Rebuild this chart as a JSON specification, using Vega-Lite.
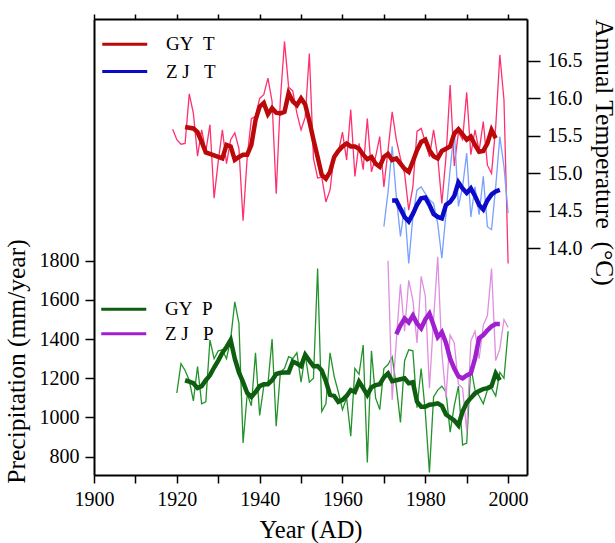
{
  "$schema": "https://vega.github.io/schema/vega-lite/v6.json",
  "width": 433,
  "height": 456,
  "autosize": {"type": "none"},
  "padding": {"left": 94, "top": 19, "right": 88, "bottom": 68},
  "background": "white",
  "config": {
    "font": "Liberation Serif",
    "view": {"stroke": null},
    "axis": {"grid": false, "domainColor": "#000", "domainWidth": 2, "tickColor": "#000", "tickWidth": 1.5, "labelColor": "#000", "titleColor": "#000", "labelFont": "Liberation Serif", "titleFont": "Liberation Serif", "labelFontSize": 20, "titleFontSize": 25.5, "titleFontWeight": "normal", "labelFlush": false, "labelOverlap": false},
    "legend": {"labelFont": "Liberation Serif", "labelFontSize": 19, "labelColor": "#000", "symbolType": "M-2,0H2", "symbolSize": 506, "symbolStrokeWidth": 3, "labelOffset": 28.25, "orient": "none", "title": null}
  },
  "data": {"values": [
    {"year":1919,"GY_T":15.59},
    {"year":1920,"GY_T":15.45,"GY_P":1125},
    {"year":1921,"GY_T":15.39,"GY_P":1275},
    {"year":1922,"GY_T":15.40,"GY_T_s":15.62,"GY_P":1240,"GY_P_s":1190},
    {"year":1923,"GY_T":16.06,"GY_T_s":15.61,"GY_P":1190,"GY_P_s":1183},
    {"year":1924,"GY_T":15.80,"GY_T_s":15.60,"GY_P":1085,"GY_P_s":1175},
    {"year":1925,"GY_T":15.23,"GY_T_s":15.55,"GY_P":1260,"GY_P_s":1150},
    {"year":1926,"GY_T":15.58,"GY_T_s":15.42,"GY_P":1070,"GY_P_s":1160},
    {"year":1927,"GY_T":15.29,"GY_T_s":15.28,"GY_P":1080,"GY_P_s":1190},
    {"year":1928,"GY_T":15.65,"GY_T_s":15.26,"GY_P":1395,"GY_P_s":1215},
    {"year":1929,"GY_T":14.67,"GY_T_s":15.24,"GY_P":1300,"GY_P_s":1255},
    {"year":1930,"GY_T":15.16,"GY_T_s":15.22,"GY_P":1340,"GY_P_s":1290},
    {"year":1931,"GY_T":15.58,"GY_T_s":15.20,"GY_P":1345,"GY_P_s":1330},
    {"year":1932,"GY_T":15.13,"GY_T_s":15.38,"GY_P":1300,"GY_P_s":1360},
    {"year":1933,"GY_T":15.45,"GY_T_s":15.36,"GY_P":1400,"GY_P_s":1395},
    {"year":1934,"GY_T":15.54,"GY_T_s":15.18,"GY_P":1590,"GY_P_s":1300},
    {"year":1935,"GY_T":15.33,"GY_T_s":15.22,"GY_P":1480,"GY_P_s":1230},
    {"year":1936,"GY_T":14.37,"GY_T_s":15.25,"GY_P":870,"GY_P_s":1180},
    {"year":1937,"GY_T":15.22,"GY_T_s":15.25,"GY_P":1120,"GY_P_s":1125},
    {"year":1938,"GY_T":15.73,"GY_T_s":15.38,"GY_P":1060,"GY_P_s":1105},
    {"year":1939,"GY_T":15.76,"GY_T_s":15.71,"GY_P":1330,"GY_P_s":1130},
    {"year":1940,"GY_T":16.00,"GY_T_s":15.89,"GY_P":1010,"GY_P_s":1160},
    {"year":1941,"GY_T":16.05,"GY_T_s":15.94,"GY_P":1160,"GY_P_s":1170},
    {"year":1942,"GY_T":16.27,"GY_T_s":15.79,"GY_P":1170,"GY_P_s":1170},
    {"year":1943,"GY_T":15.96,"GY_T_s":15.87,"GY_P":1400,"GY_P_s":1190},
    {"year":1944,"GY_T":14.73,"GY_T_s":15.81,"GY_P":955,"GY_P_s":1222},
    {"year":1945,"GY_T":15.98,"GY_T_s":15.80,"GY_P":1230,"GY_P_s":1228},
    {"year":1946,"GY_T":16.76,"GY_T_s":15.82,"GY_P":1250,"GY_P_s":1230},
    {"year":1947,"GY_T":16.15,"GY_T_s":16.07,"GY_P":1310,"GY_P_s":1230},
    {"year":1948,"GY_T":16.10,"GY_T_s":15.96,"GY_P":1300,"GY_P_s":1285},
    {"year":1949,"GY_T":15.80,"GY_T_s":15.91,"GY_P":1330,"GY_P_s":1275},
    {"year":1950,"GY_T":15.58,"GY_T_s":16.00,"GY_P":1180,"GY_P_s":1262},
    {"year":1951,"GY_T":15.75,"GY_T_s":15.92,"GY_P":1320,"GY_P_s":1320},
    {"year":1952,"GY_T":16.60,"GY_T_s":15.70,"GY_P":1180,"GY_P_s":1290},
    {"year":1953,"GY_T":15.20,"GY_T_s":15.45,"GY_P":1200,"GY_P_s":1262},
    {"year":1954,"GY_T":14.94,"GY_T_s":15.22,"GY_P":1760,"GY_P_s":1263},
    {"year":1955,"GY_T":14.95,"GY_T_s":14.98,"GY_P":1030,"GY_P_s":1240},
    {"year":1956,"GY_T":14.62,"GY_T_s":14.93,"GY_P":1070,"GY_P_s":1185},
    {"year":1957,"GY_T":14.78,"GY_T_s":15.02,"GY_P":1330,"GY_P_s":1115},
    {"year":1958,"GY_T":15.25,"GY_T_s":15.22,"GY_P":1210,"GY_P_s":1110},
    {"year":1959,"GY_T":15.28,"GY_T_s":15.30,"GY_P":1130,"GY_P_s":1080},
    {"year":1960,"GY_T":15.55,"GY_T_s":15.36,"GY_P":1040,"GY_P_s":1090},
    {"year":1961,"GY_T":15.18,"GY_T_s":15.40,"GY_P":1100,"GY_P_s":1110},
    {"year":1962,"GY_T":15.85,"GY_T_s":15.36,"GY_P":905,"GY_P_s":1140},
    {"year":1963,"GY_T":14.96,"GY_T_s":15.36,"GY_P":1250,"GY_P_s":1130},
    {"year":1964,"GY_T":15.40,"GY_T_s":15.33,"GY_P":1220,"GY_P_s":1183},
    {"year":1965,"GY_T":15.05,"GY_T_s":15.25,"GY_P":1370,"GY_P_s":1150},
    {"year":1966,"GY_T":15.73,"GY_T_s":15.19,"GY_P":770,"GY_P_s":1115},
    {"year":1967,"GY_T":15.02,"GY_T_s":15.22,"GY_P":1340,"GY_P_s":1155},
    {"year":1968,"GY_T":15.22,"GY_T_s":15.13,"GY_P":1100,"GY_P_s":1165},
    {"year":1969,"GY_T":15.49,"GY_T_s":15.09,"GY_P":1040,"GY_P_s":1170},
    {"year":1970,"GY_T":14.82,"GY_T_s":15.22,"GY_P":1250,"GY_P_s":1205,"ZJ_T":14.29},
    {"year":1971,"GY_T":15.31,"GY_T_s":15.26,"GY_P":1270,"GY_P_s":1225,"ZJ_T":14.75,"ZJ_P":1800},
    {"year":1972,"GY_T":15.82,"GY_T_s":15.18,"GY_P":1310,"GY_P_s":1185,"ZJ_T":15.36,"ZJ_T_s":14.64,"ZJ_P":1090},
    {"year":1973,"GY_T":15.45,"GY_T_s":15.20,"GY_P":1160,"GY_P_s":1190,"ZJ_T":14.69,"ZJ_T_s":14.64,"ZJ_P":1390,"ZJ_P_s":1425},
    {"year":1974,"GY_T":15.20,"GY_T_s":15.13,"GY_P":975,"GY_P_s":1195,"ZJ_T":14.16,"ZJ_T_s":14.53,"ZJ_P":1680,"ZJ_P_s":1470},
    {"year":1975,"GY_T":15.00,"GY_T_s":15.06,"GY_P":1290,"GY_P_s":1200,"ZJ_T":14.55,"ZJ_T_s":14.42,"ZJ_P":1440,"ZJ_P_s":1505},
    {"year":1976,"GY_T":14.51,"GY_T_s":15.02,"GY_P":1345,"GY_P_s":1175,"ZJ_T":13.80,"ZJ_T_s":14.36,"ZJ_P":1700,"ZJ_P_s":1485},
    {"year":1977,"GY_T":14.82,"GY_T_s":15.16,"GY_P":1340,"GY_P_s":1180,"ZJ_T":14.42,"ZJ_T_s":14.46,"ZJ_P":1600,"ZJ_P_s":1520},
    {"year":1978,"GY_T":15.56,"GY_T_s":15.31,"GY_P":1050,"GY_P_s":1080,"ZJ_T":14.78,"ZJ_T_s":14.58,"ZJ_P":1380,"ZJ_P_s":1480},
    {"year":1979,"GY_T":15.60,"GY_T_s":15.42,"GY_P":1250,"GY_P_s":1055,"ZJ_T":14.82,"ZJ_T_s":14.67,"ZJ_P":1720,"ZJ_P_s":1455},
    {"year":1980,"GY_T":15.42,"GY_T_s":15.45,"GY_P":1030,"GY_P_s":1055,"ZJ_T":14.73,"ZJ_T_s":14.68,"ZJ_P":1620,"ZJ_P_s":1500},
    {"year":1981,"GY_T":15.22,"GY_T_s":15.31,"GY_P":720,"GY_P_s":1065,"ZJ_T":14.65,"ZJ_T_s":14.58,"ZJ_P":1150,"ZJ_P_s":1530},
    {"year":1982,"GY_T":15.58,"GY_T_s":15.23,"GY_P":1105,"GY_P_s":1068,"ZJ_T":14.60,"ZJ_T_s":14.46,"ZJ_P":1500,"ZJ_P_s":1470},
    {"year":1983,"GY_T":15.22,"GY_T_s":15.20,"GY_P":1140,"GY_P_s":1072,"ZJ_T":14.33,"ZJ_T_s":14.42,"ZJ_P":1820,"ZJ_P_s":1410},
    {"year":1984,"GY_T":14.60,"GY_T_s":15.30,"GY_P":1160,"GY_P_s":1060,"ZJ_T":13.87,"ZJ_T_s":14.40,"ZJ_P":1330,"ZJ_P_s":1435},
    {"year":1985,"GY_T":15.22,"GY_T_s":15.33,"GY_P":1130,"GY_P_s":1015,"ZJ_T":14.47,"ZJ_T_s":14.58,"ZJ_P":1100,"ZJ_P_s":1380},
    {"year":1986,"GY_T":16.18,"GY_T_s":15.36,"GY_P":925,"GY_P_s":1000,"ZJ_T":15.05,"ZJ_T_s":14.62,"ZJ_P":1420,"ZJ_P_s":1300},
    {"year":1987,"GY_T":15.10,"GY_T_s":15.53,"GY_P":1060,"GY_P_s":985,"ZJ_T":15.58,"ZJ_T_s":14.70,"ZJ_P":1380,"ZJ_P_s":1250},
    {"year":1988,"GY_T":15.55,"GY_T_s":15.59,"GY_P":1160,"GY_P_s":960,"ZJ_T":14.56,"ZJ_T_s":14.88,"ZJ_P":1170,"ZJ_P_s":1210},
    {"year":1989,"GY_T":15.45,"GY_T_s":15.52,"GY_P":860,"GY_P_s":1030,"ZJ_T":14.82,"ZJ_T_s":14.80,"ZJ_P":1150,"ZJ_P_s":1200},
    {"year":1990,"GY_T":16.08,"GY_T_s":15.45,"GY_P":870,"GY_P_s":1075,"ZJ_T":15.27,"ZJ_T_s":14.74,"ZJ_P":930,"ZJ_P_s":1215},
    {"year":1991,"GY_T":15.25,"GY_T_s":15.49,"GY_P":1260,"GY_P_s":1100,"ZJ_T":14.42,"ZJ_T_s":14.80,"ZJ_P":1390,"ZJ_P_s":1225},
    {"year":1992,"GY_T":15.58,"GY_T_s":15.38,"GY_P":1140,"GY_P_s":1123,"ZJ_T":14.82,"ZJ_T_s":14.70,"ZJ_P":1440,"ZJ_P_s":1300},
    {"year":1993,"GY_T":15.30,"GY_T_s":15.29,"GY_P":1110,"GY_P_s":1135,"ZJ_T":14.45,"ZJ_T_s":14.58,"ZJ_P":1300,"ZJ_P_s":1405},
    {"year":1994,"GY_T":15.69,"GY_T_s":15.30,"GY_P":1070,"GY_P_s":1145,"ZJ_T":14.96,"ZJ_T_s":14.52,"ZJ_P":1470,"ZJ_P_s":1420},
    {"year":1995,"GY_T":15.11,"GY_T_s":15.40,"GY_P":1140,"GY_P_s":1150,"ZJ_T":14.29,"ZJ_T_s":14.64,"ZJ_P":1520,"ZJ_P_s":1445},
    {"year":1996,"GY_T":15.00,"GY_T_s":15.58,"GY_P":1150,"GY_P_s":1160,"ZJ_T":14.25,"ZJ_T_s":14.72,"ZJ_P":1760,"ZJ_P_s":1465},
    {"year":1997,"GY_T":15.62,"GY_T_s":15.47,"GY_P":1110,"GY_P_s":1225,"ZJ_T":14.82,"ZJ_T_s":14.76,"ZJ_P":1290,"ZJ_P_s":1477},
    {"year":1998,"GY_T":16.58,"GY_P":1230,"GY_P_s":1190,"ZJ_T":15.49,"ZJ_T_s":14.78,"ZJ_P":1350,"ZJ_P_s":1477},
    {"year":1999,"GY_T":15.98,"GY_P":1200,"ZJ_T":15.09,"ZJ_P":1500},
    {"year":2000,"GY_T":13.80,"GY_P":1440,"ZJ_T":14.47,"ZJ_P":1460}
  ]},
  "layer": [
    {
      "transform": [
        {"fold": ["GY_T", "ZJ_T", "GY_T_s", "ZJ_T_s"], "as": ["series", "value"]},
        {"filter": "isValid(datum.value)"}
      ],
      "encoding": {
        "x": {"field": "year", "type": "quantitative",
          "scale": {"domain": [1900, 2004.56], "nice": false, "zero": false},
          "axis": {"orient": "top", "values": [1900,1910,1920,1930,1940,1950,1960,1970,1980,1990,2000], "labels": false, "title": null, "tickSize": 5}},
        "y": {"field": "value", "type": "quantitative",
          "scale": {"domain": [10.979, 17.059], "nice": false, "zero": false},
          "axis": {"orient": "right", "values": [14, 14.5, 15, 15.5, 16, 16.5], "format": ".1f", "title": "Annual Temperature\u00a0\u00a0(°C)", "titleAngle": 90, "titleX": 68.5, "titleY": 133, "titleBaseline": "alphabetic", "titleAlign": "center", "tickSize": 13, "labelPadding": 7}}
      },
      "layer": [
        {"transform": [{"filter": "datum.series === 'GY_T'"}], "mark": {"type": "line", "color": "#ff3070", "strokeWidth": 1.3}},
        {"transform": [{"filter": "datum.series === 'ZJ_T'"}], "mark": {"type": "line", "color": "#78a0ff", "strokeWidth": 1.3}},
        {"transform": [{"filter": "datum.series === 'GY_T_s'"}], "mark": {"type": "line", "strokeWidth": 4.5},
          "encoding": {
            "color": {"datum": "GY T",
              "scale": {"domain": ["GY T", "ZJ T"], "range": ["#bb0808", "#0a0ac8"]},
              "legend": {"orient": "none", "legendX": 17.75, "legendY": 12.35, "rowPadding": 4.2, "labelExpr": "datum.label === 'GY T' ? 'GY\u00a0\u00a0T' : 'Z\u00a0J\u00a0\u00a0\u00a0T'"}}}},
        {"transform": [{"filter": "datum.series === 'ZJ_T_s'"}], "mark": {"type": "line", "strokeWidth": 4.5},
          "encoding": {"color": {"datum": "ZJ T"}}}
      ]
    },
    {
      "transform": [
        {"fold": ["GY_P", "ZJ_P", "GY_P_s", "ZJ_P_s"], "as": ["series", "value"]},
        {"filter": "isValid(datum.value)"}
      ],
      "encoding": {
        "x": {"field": "year", "type": "quantitative",
          "scale": {"domain": [1900, 2004.56], "nice": false, "zero": false},
          "axis": {"orient": "bottom", "values": [1900,1910,1920,1930,1940,1950,1960,1970,1980,1990,2000], "format": "d", "labelExpr": "datum.value % 20 === 0 ? datum.label : ''", "title": "Year (AD)", "titleFontSize": 24.5, "tickSize": 8, "labelPadding": 6, "titleY": 62, "titleBaseline": "alphabetic"}},
        "y": {"field": "value", "type": "quantitative",
          "scale": {"domain": [706.6, 3033], "nice": false, "zero": false},
          "axis": {"orient": "left", "values": [800, 1000, 1200, 1400, 1600, 1800], "format": "d", "title": "Precipitation (mm/year)", "titleAngle": -90, "titleX": -69.5, "titleY": 342, "titleBaseline": "alphabetic", "titleAlign": "center", "tickSize": 9, "labelPadding": 6}}
      },
      "layer": [
        {"transform": [{"filter": "datum.series === 'GY_P'"}], "mark": {"type": "line", "color": "#22922a", "strokeWidth": 1.3}},
        {"transform": [{"filter": "datum.series === 'ZJ_P'"}], "mark": {"type": "line", "color": "#e08ee0", "strokeWidth": 1.3}},
        {"transform": [{"filter": "datum.series === 'GY_P_s'"}], "mark": {"type": "line", "strokeWidth": 4.5},
          "encoding": {
            "color": {"datum": "GY P",
              "scale": {"domain": ["GY P", "ZJ P"], "range": ["#0e5e10", "#a020d0"]},
              "legend": {"orient": "none", "legendX": 16.75, "legendY": 277.35, "rowPadding": 1.5, "labelExpr": "datum.label === 'GY P' ? 'GY\u00a0\u00a0P' : 'Z\u00a0J\u00a0\u00a0\u00a0P'"}}}},
        {"transform": [{"filter": "datum.series === 'ZJ_P_s'"}], "mark": {"type": "line", "strokeWidth": 4.5},
          "encoding": {"color": {"datum": "ZJ P"}}}
      ]
    }
  ],
  "resolve": {"scale": {"y": "independent", "color": "independent"}, "axis": {"x": "independent", "y": "independent"}}
}
